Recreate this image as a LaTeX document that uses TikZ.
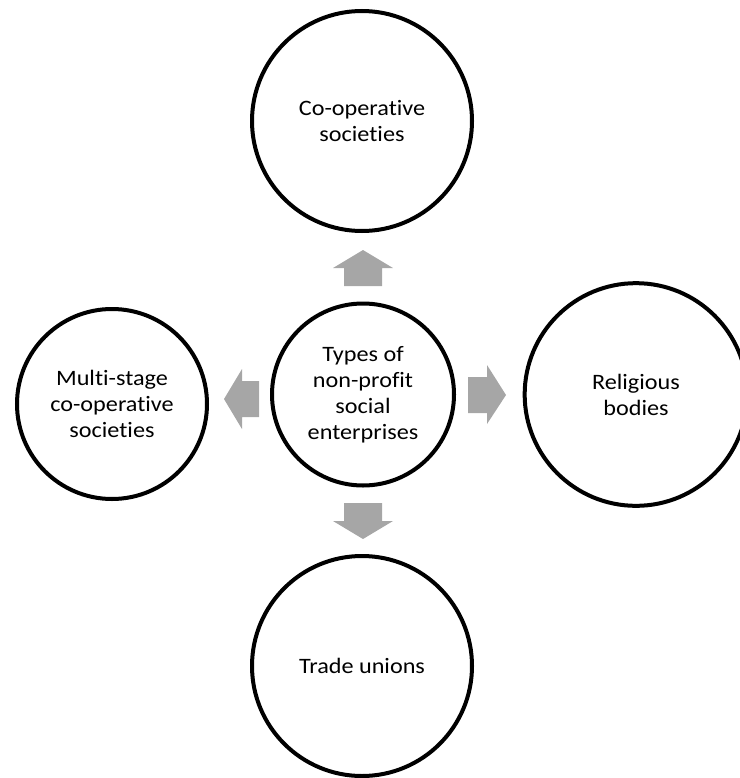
\documentclass[tikz,border=0pt]{standalone}
\usepackage{fontspec}
\setmainfont{Carlito}[Ligatures=NoCommon,FakeStretch=1.1]
\begin{document}
\begin{tikzpicture}[x=0.75pt,y=-0.75pt,
  bubble/.style={circle,draw=black,line width=3pt,fill=white,align=center,
    font=\fontsize{16.5pt}{19.5pt}\selectfont,inner sep=0pt},
  blockarrow/.style={fill=arrowgray,draw=none}]
\definecolor{arrowgray}{HTML}{A6A6A6}
\useasboundingbox (0,0) rectangle (739,778);
\node[bubble,minimum size=165pt] (top) at (362,121) {Co-operative\\societies};
\node[bubble,minimum size=136.5pt] (mid) at (363,394.5) {Types of\\non-profit\\social\\enterprises};
\node[bubble,minimum size=167pt] (right) at (636,394.5) {Religious\\bodies};
\node[bubble,minimum size=142.5pt] (left) at (112,404) {Multi-stage\\co-operative\\societies};
\node[bubble,minimum size=165pt] (bottom) at (362,666) {Trade unions};
% block arrows
\fill[blockarrow] (363,250) -- (393,268) -- (382,268) -- (382,286) -- (344,286) -- (344,268) -- (333,268) -- cycle;
\fill[blockarrow] (344,503) -- (382,503) -- (382,521) -- (393,521) -- (363,539) -- (333,521) -- (344,521) -- cycle;
\fill[blockarrow] (468,377) -- (487,377) -- (487,365) -- (506,395) -- (487,424) -- (487,413) -- (468,413) -- cycle;
\fill[blockarrow] (259,381) -- (242,381) -- (242,369) -- (224,399) -- (242,429) -- (242,417) -- (259,417) -- cycle;
\end{tikzpicture}
\end{document}
